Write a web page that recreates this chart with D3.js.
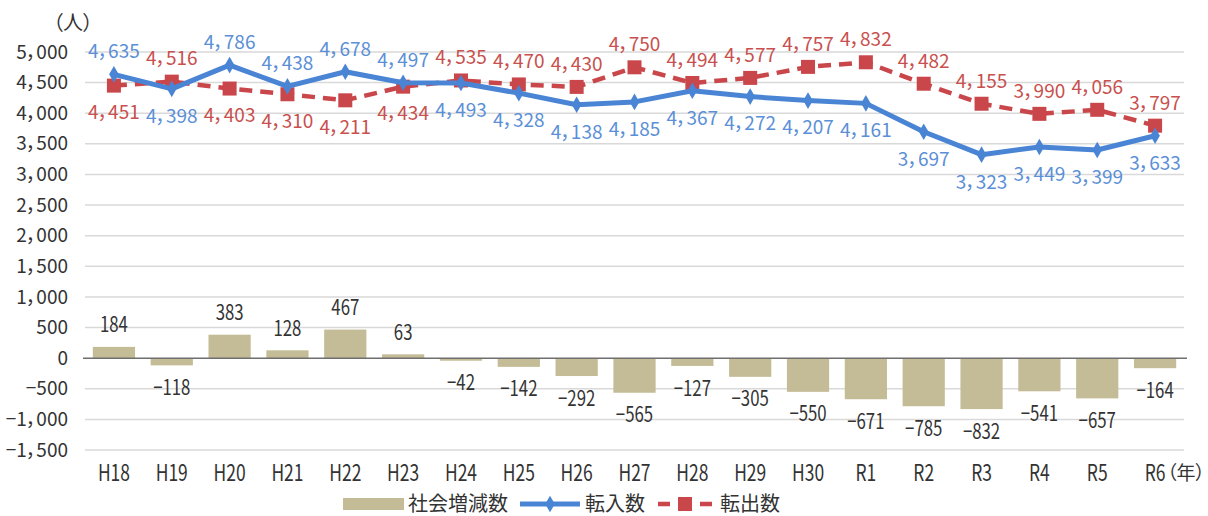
<!DOCTYPE html>
<html lang="ja">
<head>
<meta charset="UTF-8">
<title>社会増減数・転入数・転出数</title>
<style>
  body { margin: 0; background: #fff; }
  svg text { font-family: "Noto Sans CJK JP", "Noto Sans", sans-serif; font-feature-settings: "palt"; }
</style>
</head>
<body>
<script src="https://d3js.org/d3.v7.min.js"></script>
<script>
// data
const categories = ['H18','H19','H20','H21','H22','H23','H24','H25','H26','H27','H28','H29','H30','R1','R2','R3','R4','R5','R6'];
const inflow  = [4635,4398,4786,4438,4678,4497,4493,4328,4138,4185,4367,4272,4207,4161,3697,3323,3449,3399,3633];
const outflow = [4451,4516,4403,4310,4211,4434,4535,4470,4430,4750,4494,4577,4757,4832,4482,4155,3990,4056,3797];
const net     = [184,-118,383,128,467,63,-42,-142,-292,-565,-127,-305,-550,-671,-785,-832,-541,-657,-164];
const yTicks  = d3.range(-1500, 5001, 500);

const W = 1208, H = 516;
const plotLeft = 85, plotRight = 1184, plotTop = 52, plotBottom = 450;

const blue = '#4a84d4', blueText = '#5b8fd6';
const red = '#c9464a', redText = '#c8504e';
const barColor = '#c4bc96';
const ink = '#333';

const fmt = v => d3.format(',')(v).replace(',', '，').replace('-', '−');

const svg = d3.select('body').append('svg')
  .attr('width', W).attr('height', H);

const x = d3.scaleBand().domain(categories).range([plotLeft, plotRight]).paddingInner(0.27).paddingOuter(0.135);
const xc = c => x(c) + x.bandwidth() / 2;
const y = d3.scaleLinear().domain([-1500, 5000]).range([plotBottom, plotTop]);

// gridlines
svg.append('g').selectAll('line')
  .data(yTicks.filter(d => d !== 0))
  .join('line')
  .attr('x1', plotLeft).attr('x2', plotRight)
  .attr('y1', d => y(d)).attr('y2', d => y(d))
  .attr('stroke', '#d9d9d9').attr('stroke-width', 1.5);

// y axis
const yAxis = svg.append('g')
  .attr('transform', `translate(${plotLeft - 17},0)`)
  .call(d3.axisLeft(y).tickValues(yTicks).tickSize(0).tickPadding(0).tickFormat(fmt));
yAxis.select('.domain').remove();
yAxis.selectAll('text').attr('font-size', 19).attr('fill', ink)
  .style('font-family', '"Noto Sans CJK JP", sans-serif');

// x axis labels (narrow, tall lettering)
svg.append('g').selectAll('text')
  .data(categories)
  .join('text')
  .attr('transform', d => `translate(${xc(d)},481) scale(0.76,1)`)
  .attr('text-anchor', 'middle').attr('font-size', 23).attr('fill', ink)
  .text(d => d);

svg.append('text').attr('x', 53).attr('y', 30).attr('font-size', 20).attr('fill', ink).text('（人）');
svg.append('text').attr('x', 1167).attr('y', 480).attr('font-size', 19).attr('fill', ink).text('（年）');

// bars
svg.append('g').selectAll('rect')
  .data(net.map((v, i) => ({ c: categories[i], v })))
  .join('rect')
  .attr('x', d => x(d.c)).attr('width', x.bandwidth())
  .attr('y', d => y(Math.max(0, d.v)))
  .attr('height', d => Math.abs(y(d.v) - y(0)))
  .attr('fill', barColor);

// zero line
svg.append('line')
  .attr('x1', plotLeft - 2).attr('x2', plotRight + 3)
  .attr('y1', y(0)).attr('y2', y(0))
  .attr('stroke', '#6f6f6f').attr('stroke-width', 1.5);

// bar labels
svg.append('g').selectAll('text')
  .data(net.map((v, i) => ({ c: categories[i], v })))
  .join('text')
  .attr('transform', d => `translate(${xc(d.c)},${d.v >= 0 ? y(d.v) - 22 : y(d.v) + 22}) scale(0.8,1)`)
  .attr('dy', '0.36em')
  .attr('text-anchor', 'middle').attr('font-size', 21).attr('fill', ink)
  .text(d => fmt(d.v));

const line = d3.line().x(d => xc(d.c)).y(d => y(d.v));
const inData = inflow.map((v, i) => ({ c: categories[i], v, above: v >= outflow[i] }));
const outData = outflow.map((v, i) => ({ c: categories[i], v, above: v > inflow[i] }));

// outflow (red dashed, squares)
svg.append('path').datum(outData)
  .attr('d', line).attr('fill', 'none')
  .attr('stroke', red).attr('stroke-width', 4.5).attr('stroke-dasharray', '13,8');
svg.append('g').selectAll('rect')
  .data(outData).join('rect')
  .attr('x', d => xc(d.c) - 7).attr('y', d => y(d.v) - 7)
  .attr('width', 14).attr('height', 14).attr('fill', red);

// inflow (blue solid, diamonds)
svg.append('path').datum(inData)
  .attr('d', line).attr('fill', 'none')
  .attr('stroke', blue).attr('stroke-width', 5).attr('stroke-linejoin', 'round');
svg.append('g').selectAll('path')
  .data(inData).join('path')
  .attr('d', d3.symbol(d3.symbolDiamond, 80))
  .attr('transform', d => `translate(${xc(d.c)},${y(d.v)})`)
  .attr('fill', blue);

// line labels
function lineLabels(data, color) {
  svg.append('g').selectAll('text')
    .data(data).join('text')
    .attr('x', d => xc(d.c))
    .attr('y', d => d.above ? y(d.v) - 23 : y(d.v) + 27)
    .attr('dy', '0.36em')
    .attr('text-anchor', 'middle').attr('font-size', 19).attr('fill', color)
    .text(d => fmt(d.v));
}
lineLabels(inData, blueText);
lineLabels(outData, redText);

// legend
const lg = svg.append('g').attr('font-size', 20).attr('fill', ink);
lg.append('rect').attr('x', 343).attr('y', 498).attr('width', 61).attr('height', 12).attr('fill', barColor);
lg.append('text').attr('x', 408).attr('y', 511).attr('fill', ink).text('社会増減数');
lg.append('line').attr('x1', 520).attr('x2', 580).attr('y1', 504).attr('y2', 504)
  .attr('stroke', blue).attr('stroke-width', 5);
lg.append('path').attr('d', d3.symbol(d3.symbolDiamond, 80)).attr('transform', 'translate(550,504)').attr('fill', blue);
lg.append('text').attr('x', 585).attr('y', 511).attr('fill', ink).text('転入数');
lg.append('line').attr('x1', 658).attr('x2', 712).attr('y1', 504).attr('y2', 504)
  .attr('stroke', red).attr('stroke-width', 4.5).attr('stroke-dasharray', '12,9');
lg.append('rect').attr('x', 678).attr('y', 497).attr('width', 14).attr('height', 14).attr('fill', red);
lg.append('text').attr('x', 720).attr('y', 511).attr('fill', ink).text('転出数');
</script>
</body>
</html>
